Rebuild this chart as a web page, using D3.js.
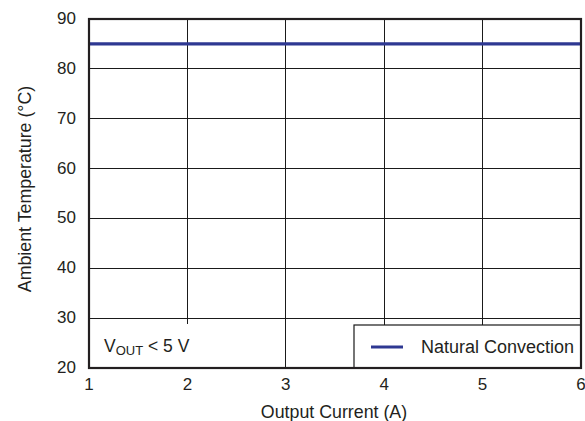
<!DOCTYPE html>
<html>
<head>
<meta charset="utf-8">
<script src="https://cdn.jsdelivr.net/npm/d3@7"></script>
<style>
  html, body { margin: 0; padding: 0; background: #fff; }
  svg { display: block; font-family: "Liberation Sans", Arial, Helvetica, sans-serif; }
</style>
</head>
<body>
<svg id="chart" width="585" height="421"></svg>
<script>
// Derating curve: ambient temperature limit versus output current
const currentA = [1, 2, 3, 4, 5, 6];
const naturalConvection = [85, 85, 85, 85, 85, 85];
const xTicks = [1, 2, 3, 4, 5, 6];
const yTicks = [20, 30, 40, 50, 60, 70, 80, 90];
const seriesName = "Natural Convection";

const svg = d3.select("#chart");
const margin = { left: 89, right: 4, top: 19, bottom: 53 };
const W = 585, H = 421;
const textColor = "#231f20";
const lineColor = "#2e3892";

const x = d3.scaleLinear().domain([1, 6]).range([margin.left, W - margin.right]);
const y = d3.scaleLinear().domain([20, 90]).range([H - margin.bottom, margin.top]);

// grid
const grid = svg.append("g");
grid.selectAll("line.h").data(yTicks.slice(1, -1)).join("line")
  .attr("x1", x(1)).attr("x2", x(6))
  .attr("y1", d => y(d)).attr("y2", d => y(d))
  .attr("stroke", "#1a1a1a").attr("stroke-width", 1).attr("shape-rendering", "crispEdges");
grid.selectAll("line.v").data(xTicks.slice(1, -1)).join("line")
  .attr("y1", y(20)).attr("y2", y(90))
  .attr("x1", d => x(d)).attr("x2", d => x(d))
  .attr("stroke", "#1a1a1a").attr("stroke-width", 1).attr("shape-rendering", "crispEdges");

// series line
const line = d3.line().x((d, i) => x(currentA[i])).y(d => y(d));
svg.append("path").datum(naturalConvection)
  .attr("d", line).attr("fill", "none")
  .attr("stroke", lineColor).attr("stroke-width", 3.2);

// condition note with white background
svg.append("rect")
  .attr("x", x(1)).attr("y", y(20) - 44).attr("width", 160).attr("height", 44)
  .attr("fill", "#fff");
const note = svg.append("text")
  .attr("x", x(1) + 15).attr("y", y(20) - 16)
  .attr("font-size", 17.5).attr("fill", textColor);
note.append("tspan").text("V");
note.append("tspan").attr("font-size", 13).attr("dy", 3).text("OUT");
note.append("tspan").attr("dy", -3).text(" < 5 V");

// legend
const lg = svg.append("g");
const lgX = 354, lgY = y(20) - 43;
lg.append("rect").attr("x", lgX).attr("y", lgY)
  .attr("width", x(6) - lgX).attr("height", 43)
  .attr("fill", "#fff").attr("stroke", "#1a1a1a").attr("stroke-width", 1.2);
lg.append("line").attr("x1", 371).attr("x2", 403)
  .attr("y1", lgY + 22).attr("y2", lgY + 22)
  .attr("stroke", lineColor).attr("stroke-width", 3);
lg.append("text").attr("x", 421).attr("y", lgY + 28)
  .attr("font-size", 18).attr("fill", textColor).text(seriesName);

// frame
svg.append("rect")
  .attr("x", x(1)).attr("y", y(90))
  .attr("width", x(6) - x(1)).attr("height", y(20) - y(90))
  .attr("fill", "none").attr("stroke", "#231f20").attr("stroke-width", 2.2);

// tick labels
svg.append("g").selectAll("text").data(xTicks).join("text")
  .attr("x", d => x(d)).attr("y", y(20) + 22)
  .attr("text-anchor", "middle").attr("font-size", 17).attr("fill", textColor)
  .text(d => d);
svg.append("g").selectAll("text").data(yTicks).join("text")
  .attr("x", x(1) - 13).attr("y", d => y(d) + 5)
  .attr("text-anchor", "end").attr("font-size", 17).attr("fill", textColor)
  .text(d => d);

// axis titles
svg.append("text")
  .attr("x", 334).attr("y", 418)
  .attr("text-anchor", "middle").attr("font-size", 17.8).attr("fill", textColor)
  .text("Output Current (A)");
svg.append("text")
  .attr("transform", `translate(31,189) rotate(-90)`)
  .attr("text-anchor", "middle").attr("font-size", 17.8).attr("fill", textColor)
  .text("Ambient Temperature (°C)");
</script>
</body>
</html>
